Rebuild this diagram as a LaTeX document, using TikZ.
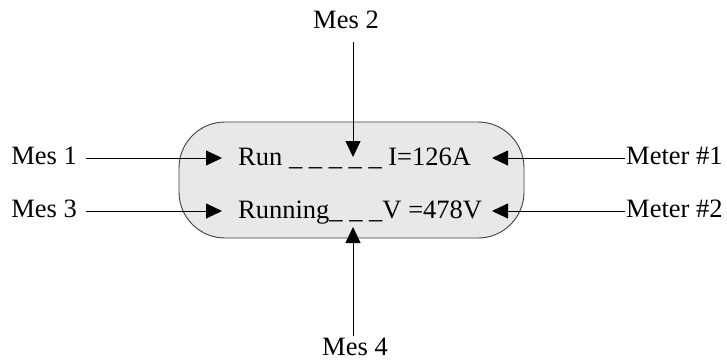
\documentclass[tikz,border=0pt]{standalone}
\usepackage{fontspec}
\setmainfont{Liberation Serif}
\usetikzlibrary{arrows.meta}
\tikzset{
  lbl/.style={inner sep=0pt, font=\fontsize{26.5}{30}\selectfont},
  arr/.style={line width=0.9pt, -{Triangle[length=16pt,width=15pt]}},
  panel/.style={draw=black!75, line width=0.9pt, fill=black!9, rounded corners=46pt}
}
\begin{document}
\begin{tikzpicture}[x=1pt,y=-1pt]
\useasboundingbox (0,0) rectangle (727,362);

% display panel
\draw[panel] (179,122) rectangle (524,238);
\node[lbl, anchor=base west] (r1) at (238,165) {Run \_ \_ \_ \_ \_ I=126A};
\node[lbl, anchor=base west] (r2) at (238,218) {Running\_ \_ \_V =478V};

% arrow rows
\coordinate (y1) at (0,158);
\coordinate (y2) at (0,211);

% left messages
\node[lbl, anchor=base east] (mes1) at (77,164) {Mes 1};
\node[lbl, anchor=base east] (mes3) at (77,217) {Mes 3};
\coordinate (t1) at (222,158);
\coordinate (t3) at (222,211);
\draw[arr] ([xshift=9pt]mes1.east |- y1) -- (t1);
\draw[arr] ([xshift=9pt]mes3.east |- y2) -- (t3);

% meters on the right
\node[lbl, anchor=base west] (met1) at (626,164) {Meter \#1};
\node[lbl, anchor=base west] (met2) at (626,217) {Meter \#2};
\coordinate (t2) at (492,158);
\coordinate (t4) at (492,211);
\draw[arr] ([xshift=-1pt]met1.west |- y1) -- (t2);
\draw[arr] ([xshift=-1pt]met2.west |- y2) -- (t4);

% top and bottom messages
\node[lbl, anchor=base] (mes2) at (346,28) {Mes 2};
\node[lbl, anchor=base] (mes4) at (355,355) {Mes 4};
\coordinate (tt) at (353,157);
\coordinate (tb) at (353,227);
\draw[arr] (353,42) coordinate (s2) -- (tt);
\draw[arr] (353,336) coordinate (s4) -- (tb);
\end{tikzpicture}
\end{document}
